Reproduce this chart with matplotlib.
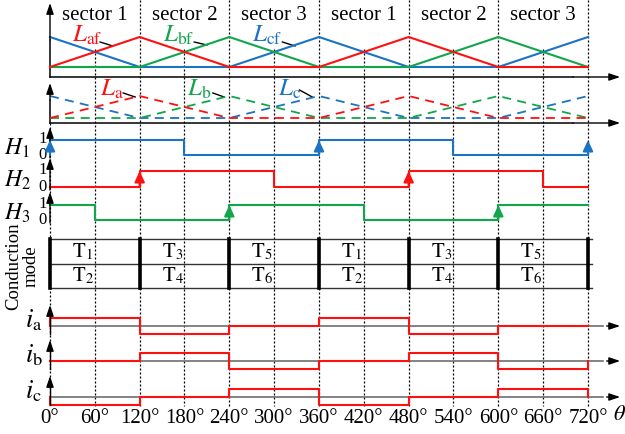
import numpy as np
import matplotlib.pyplot as plt

plt.rcParams['font.family'] = ['Liberation Serif', 'DejaVu Serif']
plt.rcParams['mathtext.fontset'] = 'stix'

# electrical angle grid
ticks = [0, 60, 120, 180, 240, 300, 360, 420, 480, 540, 600, 660, 720]
tick_labels = ['0°', '60°', '120°', '180°', '240°', '300°', '360°',
               '420°', '480°', '540°', '600°', '660°', '720°']
sectors = ['sector 1', 'sector 2', 'sector 3', 'sector 1', 'sector 2', 'sector 3']

# inductance profiles (normalised), breakpoints every 120 deg
L_ang = [0, 120, 240, 360, 480, 600, 720]
L_af = [0, 1, 0, 0, 1, 0, 0]
L_bf = [0, 0, 1, 0, 0, 1, 0]
L_cf = [1, 0, 0, 1, 0, 0, 1]

# hall signals, one value per 60 deg
H1 = [1, 1, 1, 0, 0, 0, 1, 1, 1, 0, 0, 0]
H2 = [0, 0, 1, 1, 1, 0, 0, 0, 1, 1, 1, 0]
H3 = [1, 0, 0, 0, 1, 1, 1, 0, 0, 0, 1, 1]
H1_rise = [0, 360, 720]
H2_rise = [120, 480]
H3_rise = [240, 600]

# conducting switches per 120 deg
T_upper = ['1', '3', '5', '1', '3', '5']
T_lower = ['2', '4', '6', '2', '4', '6']

# phase currents (+1 / 0 / -1), one value per 120 deg
i_a = [1, -1, 0, 1, -1, 0]
i_b = [0, 1, -1, 0, 1, -1]
i_c = [-1, 0, 1, -1, 0, 1]

RED = '#ff1010'
GREEN = '#12a64c'
BLUE = '#1b73c2'

PX = 0.7472  # pixels per degree
fig = plt.figure(figsize=(6.25, 4.34), dpi=100)
ax = fig.add_axes([0, 0, 1, 1])
ax.set_xlim(-50 / PX, 575 / PX)
ax.set_ylim(434, 0)
ax.axis('off')
XEND = 763


def arrow(x0, y0, x1, y1, color='k', lw=1.0, hl=6.5, hw=2.2, z=5):
    ax.annotate('', xy=(x1, y1), xytext=(x0, y0),
                arrowprops=dict(arrowstyle=f'-|>,head_length={hl},head_width={hw}',
                                color=color, lw=lw, shrinkA=0, shrinkB=0,
                                mutation_scale=1), zorder=z)


def steps(edges, vals, start=None, end=None):
    xs, ys = [], []
    if start is not None:
        xs.append(edges[0]); ys.append(start)
    for k, v in enumerate(vals):
        xs += [edges[k], edges[k + 1]]
        ys += [v, v]
    if end is not None:
        xs.append(edges[-1]); ys.append(end)
    return np.array(xs), np.array(ys)


# dotted guide lines
for t in ticks:
    if t == 0:
        top = 123
    elif t % 120 == 0:
        top = 0
    else:
        top = 49
    ax.plot([t, t], [top, 406], color='k', lw=0.9, ls=(0, (1.6, 1.6)), zorder=1)

# sector names
for k, s in enumerate(sectors):
    ax.text(60 + 120 * k, 20, s, ha='center', va='baseline', fontsize=15)

# top panel: full inductances
ax.plot([0, 0], [77, 40], color='k', lw=1.1)
arrow(0, 40, 0, 3)
ax.plot([0, 700], [77, 77], color='k', lw=1.1)
arrow(700, 77, XEND, 77)
for vals, c in [(L_cf, BLUE), (L_bf, GREEN), (L_af, RED)]:
    ax.plot(L_ang, 67 - 30 * np.array(vals), color=c, lw=1.5, zorder=3)

# second panel: dashed inductances
ax.plot([0, 0], [123, 100], color='k', lw=1.1)
arrow(0, 100, 0, 83)
ax.plot([0, 700], [123, 123], color='k', lw=1.1)
arrow(700, 123, XEND, 123)
for vals, c in [(L_cf, BLUE), (L_bf, GREEN), (L_af, RED)]:
    ax.plot(L_ang, 118 - 22 * np.array(vals), color=c, lw=1.3,
            ls=(0, (5, 3.5)), zorder=3)

# labels with leaders
lab_top = [(r'$L_{\mathrm{af}}$', 29, RED, (67, 42), (84, 46)),
           (r'$L_{\mathrm{bf}}$', 151, GREEN, (193, 42), (210, 45)),
           (r'$L_{\mathrm{cf}}$', 270, BLUE, (311, 42), (328, 46))]
for txt, x, c, p0, p1 in lab_top:
    ax.text(x, 42, txt, color=c, fontsize=18, ha='left', va='baseline')
    ax.plot([p0[0], p1[0]], [p0[1], p1[1]], color='k', lw=1.0)
lab_mid = [(r'$L_{\mathrm{a}}$', 67, RED, (98, 93), (114, 97)),
           (r'$L_{\mathrm{b}}$', 183, GREEN, (218, 93), (233, 97)),
           (r'$L_{\mathrm{c}}$', 305, BLUE, (334, 90), (351, 97))]
for txt, x, c, p0, p1 in lab_mid:
    ax.text(x, 96, txt, color=c, fontsize=18, ha='left', va='baseline')
    ax.plot([p0[0], p1[0]], [p0[1], p1[1]], color='k', lw=1.0)

# hall signals
hall = [(H1, H1_rise, BLUE, 140, 155, r'$H_1$'),
        (H2, H2_rise, RED, 171, 187, r'$H_2$'),
        (H3, H3_rise, GREEN, 205, 220, r'$H_3$')]
for vals, rises, c, yh, yl, name in hall:
    y = np.where(np.array(vals) == 1, yh, yl)
    xs, ys = steps(ticks, y)
    ax.plot(xs, ys, color=c, lw=1.5, zorder=3)
    arrow(0, yl + 3, 0, yh - 13, lw=1.0, z=4)
    for r in rises:
        arrow(r, yl, r, yh, color=c, lw=1.5, hl=6.5, hw=3.0, z=6)
    ax.text(-61, (yh + yl) / 2 + 1, name, fontsize=17, ha='left', va='center')
    ax.text(-9.5, yh - 1, '1', fontsize=12, ha='center', va='center')
    ax.text(-9.5, yl, '0', fontsize=12, ha='center', va='center')

# conduction table
for y in [239, 264, 288]:
    ax.plot([0, 725], [y, y], color='#333333', lw=1.0, zorder=2)
for t in range(0, 721, 120):
    ax.plot([t, t], [239, 288], color='k', lw=2.6, zorder=4)
for k in range(6):
    ax.text(120 * k + 44, 252, r'$\mathrm{T}_{%s}$' % T_upper[k], fontsize=15,
            ha='center', va='center')
    ax.text(120 * k + 44, 276, r'$\mathrm{T}_{%s}$' % T_lower[k], fontsize=15,
            ha='center', va='center')
ax.text(-37, 266, 'Conduction\nmode', rotation=90, fontsize=13.5,
        ha='center', va='center', multialignment='center', linespacing=1.0)

# phase currents
cur = [(i_a, 326, r'$i_{\mathrm{a}}$'),
       (i_b, 361, r'$i_{\mathrm{b}}$'),
       (i_c, 397, r'$i_{\mathrm{c}}$')]
for vals, base, name in cur:
    ax.plot([0, 740], [base, base], color='#6e6e6e', lw=1.2, zorder=2)
    arrow(745, base, XEND, base, color='k', lw=1.0)
    y = base - 8 * np.array(vals)
    xs, ys = steps(L_ang, y, start=base, end=base)
    ax.plot(xs, ys, color=RED, lw=1.5, zorder=3)
    ax.plot([0, 0], [base + 8, base - 10], color='k', lw=1.0, zorder=4)
    arrow(0, base - 10, 0, base - 21, z=5)
    ax.text(-34, base + 1, name, fontsize=19, ha='left', va='baseline')

# angle axis labels
for t, s in zip(ticks, tick_labels):
    ax.text(t, 423, s, fontsize=15, ha='center', va='baseline')
ax.text(762, 420, r'$\theta$', fontsize=16, ha='center', va='baseline')

fig.savefig('out.png', dpi=100)
